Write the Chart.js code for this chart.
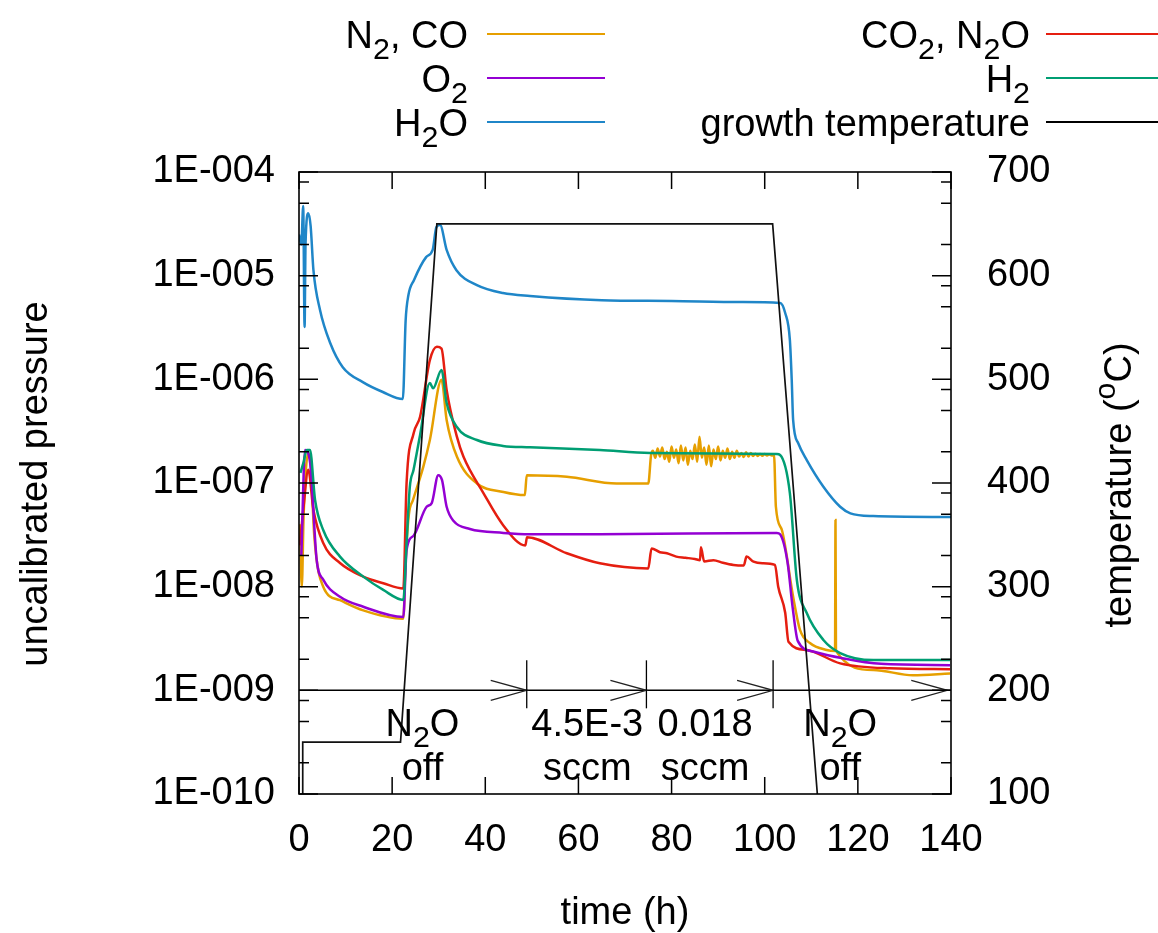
<!DOCTYPE html>
<html>
<head>
<meta charset="utf-8">
<script src="https://cdn.jsdelivr.net/npm/chart.js@4/dist/chart.umd.min.js"></script>
<style>
  html, body { margin: 0; padding: 0; background: #ffffff; }
  #wrap { width: 1158px; height: 933px; }
</style>
</head>
<body>
<div id="wrap"><canvas id="c" width="1158" height="933"></canvas></div>
<script>
// ---- residual gas partial pressures (a.u.) vs. time (h) ----
const n2coTime = [0.2, 0.6, 1.0, 2.0, 2.5, 3.3, 5.2, 8.8, 13.8, 22.4, 22.9, 23.6, 24.5, 26.7, 28.1, 30.6, 31.7, 33.9, 38.2, 43.9, 48.5,
  48.9, 57.5, 68.2, 75.0, 75.6,
  76.0, 76.5, 77.0, 77.5, 78.0, 78.5, 79.0, 79.5, 80.0, 80.5, 81.0, 81.5, 82.0, 82.5, 83.0, 83.5, 84.0, 84.5, 85.0, 85.5,
  86.0, 86.5, 87.0, 87.5, 88.0, 88.5, 89.0, 89.5, 90.0, 90.5, 91.0, 91.5, 92.0, 92.5, 93.0, 93.5, 94.0, 94.5, 95.0, 95.5,
  96.0, 96.5, 97.0, 97.5, 98.0, 98.5, 99.0, 99.5, 100.0, 100.5, 101.0, 101.5, 102.0,
  102.4, 103.7, 106.1, 107.6, 109.7, 113.3, 115.1, 115.2, 115.3, 123.3, 131.8, 139.8];
const n2coPressure = [4.0e-8, 1.0e-8, 5.0e-8, 1.95e-7, 1.5e-7, 3.0e-8, 1.0e-8, 7.4e-9, 5.9e-9, 4.9e-9, 1.8e-8, 5.0e-8, 6.9e-8, 1.44e-7, 2.6e-7, 9.9e-7, 4.06e-7, 1.8e-7, 9.9e-8, 8.2e-8, 7.65e-8,
  1.19e-7, 1.15e-7, 9.9e-8, 9.9e-8, 1.86e-7,
  2.05e-7, 1.75e-7, 2.15e-7, 1.8e-7, 2.2e-7, 1.7e-7, 2.0e-7, 1.6e-7, 2.25e-7, 1.75e-7, 2.1e-7, 1.55e-7, 2.3e-7, 1.65e-7, 2.2e-7, 1.5e-7,
  2.05e-7, 1.7e-7, 2.35e-7, 1.6e-7, 2.8e-7, 1.75e-7, 2.2e-7, 1.5e-7, 2.3e-7, 1.45e-7, 2.1e-7, 1.7e-7, 2.25e-7, 1.65e-7, 2.05e-7, 1.75e-7,
  2.15e-7, 1.7e-7, 2.0e-7, 1.75e-7, 2.05e-7, 1.8e-7, 1.95e-7, 1.78e-7, 1.98e-7, 1.8e-7, 1.95e-7, 1.82e-7, 1.92e-7, 1.82e-7, 1.9e-7, 1.83e-7,
  1.9e-7, 1.84e-7, 1.88e-7, 1.84e-7, 1.86e-7,
  5.9e-8, 3.5e-8, 8.0e-9, 3.8e-9, 2.86e-9, 2.45e-9, 2.4e-9, 4.4e-8, 2.4e-9, 1.57e-9, 1.4e-9, 1.45e-9];

const co2n2oTime = [0.2, 1.0, 2.0, 3.1, 5.2, 8.8, 13.8, 18.1, 22.4, 23.1, 24.6, 26.0, 28.1, 29.6, 30.6, 31.7, 33.9, 35.3, 39.6, 43.8, 48.6,
  48.96, 57.5, 64.6, 75.0, 75.7, 77.5, 79.0, 81.0, 83.0, 85.0, 86.1, 86.3, 87.0, 89.0, 91.0, 93.3, 95.5, 96.1, 97.6, 99.5, 102.2, 102.9,
  104.4, 105.1, 109.0, 116.2, 126.9, 139.8];
const co2n2oPressure = [2.5e-8, 6.0e-8, 1.34e-7, 5.5e-8, 2.64e-8, 1.69e-8, 1.25e-8, 1.08e-8, 9.6e-9, 1.0e-7, 3.0e-7, 4.36e-7, 1.53e-6, 2.06e-6, 1.98e-6, 7.9e-7, 2.8e-7, 1.8e-7, 8.0e-8, 3.94e-8, 2.5e-8,
  3.0e-8, 2.1e-8, 1.68e-8, 1.5e-8, 2.34e-8, 2.15e-8, 2.1e-8, 1.95e-8, 1.9e-8, 1.85e-8, 1.8e-8, 2.4e-8, 1.75e-8, 1.8e-8, 1.7e-8, 1.62e-8, 1.6e-8, 1.95e-8, 1.74e-8, 1.68e-8, 1.62e-8, 1.0e-8,
  5.6e-9, 2.94e-9, 2.45e-9, 1.82e-9, 1.63e-9, 1.6e-9];

const o2Time = [0.5, 1.3, 2.4, 3.8, 5.2, 8.8, 13.8, 22.4, 23.1, 24.6, 27.4, 28.5, 29.9, 30.7, 31.7, 33.2, 36.7, 43.9, 49.6, 64.6, 102.6,
  103.3, 104.9, 106.0, 107.1, 110.4, 116.2, 125.0, 139.8];
const o2Pressure = [2.0e-8, 2.08e-7, 1.56e-7, 1.8e-8, 1.17e-8, 8.0e-9, 6.4e-9, 5.1e-9, 2.26e-8, 3.1e-8, 5.9e-8, 6.4e-8, 1.19e-7, 1.07e-7, 5.9e-8, 4.3e-8, 3.6e-8, 3.3e-8, 3.2e-8, 3.2e-8, 3.3e-8,
  3.2e-8, 1.72e-8, 6.3e-9, 3.0e-9, 2.37e-9, 2.06e-9, 1.8e-9, 1.75e-9];

const h2Time = [0.3, 1.0, 1.65, 2.36, 3.44, 5.22, 8.8, 13.8, 18.1, 22.4, 23.1, 23.8, 24.6, 26.0, 28.1, 28.8, 30.6, 31.7, 33.9, 38.2, 43.8,
  49.6, 64.6, 75.4, 102.6, 103.3, 105.4, 106.9, 109.0, 112.6, 116.2, 123.3, 139.8];
const h2Pressure = [1.25e-7, 1.6e-7, 2.08e-7, 2.08e-7, 6.9e-8, 3.5e-8, 1.95e-8, 1.25e-8, 9.3e-9, 7.45e-9, 2.64e-8, 9.2e-8, 1.34e-7, 2.9e-7, 9.2e-7, 8.2e-7, 1.23e-6, 5.9e-7, 3.47e-7, 2.6e-7, 2.28e-7,
  2.21e-7, 2.08e-7, 1.95e-7, 1.9e-7, 1.86e-7, 8.0e-8, 1.16e-8, 5.6e-9, 3.06e-9, 2.29e-9, 1.96e-9, 1.96e-9];

const h2oTime = [0, 0.5, 0.9, 1.2, 1.4, 2.0, 2.5, 3.1, 4.5, 6.7, 9.4, 13.7, 18.0, 22.3, 22.9, 23.5, 24.7, 27.3, 28.7, 29.5, 30.3, 31.7,
  33.8, 38.2, 43.8, 49.6, 65.0, 80.0, 95.0, 103.3, 104.4, 105.4, 105.8, 106.1, 107.2, 109.0, 112.6, 116.2, 118.4, 123.3, 140.0];
const h2oPressure = [2.5e-5, 2.0e-5, 4.7e-5, 3.2e-6, 2.0e-5, 4.0e-5, 3.0e-5, 1.13e-5, 4.7e-6, 2.24e-6, 1.31e-6, 9.4e-7, 7.55e-7, 6.45e-7, 3.7e-6, 6.5e-6, 9.1e-6, 1.51e-5, 1.77e-5, 2.94e-5, 3.08e-5, 1.77e-5,
  1.13e-5, 8.1e-6, 6.8e-6, 6.37e-6, 5.8e-6, 5.7e-6, 5.57e-6, 5.45e-6, 4.36e-6, 2.4e-6, 9.9e-7, 4.06e-7, 2.42e-7, 1.67e-7, 9.2e-8, 5.9e-8, 5.1e-8, 4.8e-8, 4.7e-8];

// ---- growth temperature (°C) ----
const tempTime = [0.8, 0.8, 21.8, 29.6, 101.7, 111.3];
const tempValue = [100, 150, 150, 650, 650, 100];

// ---- axis ticks ----
const pressureTickValues = [1e-10, 1e-9, 1e-8, 1e-7, 1e-6, 1e-5, 1e-4];
const pressureTickLabels = ['1E-010', '1E-009', '1E-008', '1E-007', '1E-006', '1E-005', '1E-004'];
const minorTickFactors = [2, 5, 8];

// ---- N2O flow stages ----
const stageArrowTimes = [48.9, 74.6, 101.8, 139.2];
const stageBarTimes = [48.9, 74.6, 101.8];
const stageLevel = 1e-9;
const stageLabelTimes = [26.5, 61.9, 87.2, 116.2];
const stageLabelLine1 = [
  [{ t: 'N' }, { t: '2', sub: true }, { t: 'O' }],
  [{ t: '4.5E-3' }],
  [{ t: '0.018' }],
  [{ t: 'N' }, { t: '2', sub: true }, { t: 'O' }]
];
const stageLabelLine2 = ['off', 'sccm', 'sccm', 'off'];

// ---- legend entries (two columns) ----
const legendLeft = [
  { parts: [{ t: 'N' }, { t: '2', sub: true }, { t: ', CO' }], color: '#E69F00' },
  { parts: [{ t: 'O' }, { t: '2', sub: true }], color: '#9400D3' },
  { parts: [{ t: 'H' }, { t: '2', sub: true }, { t: 'O' }], color: '#1F86C8' }
];
const legendRight = [
  { parts: [{ t: 'CO' }, { t: '2', sub: true }, { t: ', N' }, { t: '2', sub: true }, { t: 'O' }], color: '#E51E10' },
  { parts: [{ t: 'H' }, { t: '2', sub: true }], color: '#009E73' },
  { parts: [{ t: 'growth temperature' }], color: '#000000' }
];

const FONT = '"Liberation Sans", Arial, sans-serif';
const FS = 38;

function pts(xs, ys) { return xs.map((x, i) => ({ x: x, y: ys[i] })); }

function fontStr(size) { return size.toFixed(1) + 'px ' + FONT; }

function richWidth(ctx, parts, size) {
  let w = 0;
  for (const p of parts) {
    ctx.font = fontStr(p.sub || p.sup ? size * 0.8 : size);
    w += ctx.measureText(p.t).width;
  }
  return w;
}

// draws text with sub/superscripts; y = cap-middle of the main text
function drawRich(ctx, parts, x, y, align, size) {
  const w = richWidth(ctx, parts, size);
  let cx = align === 'right' ? x - w : (align === 'center' ? x - w / 2 : x);
  const base = y + size * 0.36;
  ctx.textAlign = 'left';
  ctx.textBaseline = 'alphabetic';
  for (const p of parts) {
    const s = p.sub || p.sup ? size * 0.8 : size;
    ctx.font = fontStr(s);
    let by = base;
    if (p.sub) by += size * 0.3;
    if (p.sup) by -= size * 0.42;
    ctx.fillText(p.t, cx, by);
    cx += ctx.measureText(p.t).width;
  }
}

const decorPlugin = {
  id: 'decor',
  afterDatasetsDraw(chart) {
    const ctx = chart.ctx;
    const xs = chart.scales.x, ys = chart.scales.y;
    const a = chart.chartArea;
    ctx.save();
    ctx.strokeStyle = '#000';
    ctx.fillStyle = '#000';

    // N2O flow stage line with arrows and separators
    ctx.lineWidth = 1.5;
    const yl = ys.getPixelForValue(stageLevel);
    ctx.beginPath();
    ctx.moveTo(a.left, yl);
    ctx.lineTo(a.right, yl);
    ctx.stroke();
    ctx.lineWidth = 1.3;
    ctx.strokeStyle = '#222';
    for (const t of stageArrowTimes) {
      const px = xs.getPixelForValue(t);
      ctx.beginPath();
      ctx.moveTo(px - 36, yl - 10);
      ctx.lineTo(px, yl);
      ctx.lineTo(px - 36, yl + 10);
      ctx.stroke();
    }
    ctx.strokeStyle = '#000';
    for (const t of stageBarTimes) {
      const px = xs.getPixelForValue(t);
      ctx.beginPath();
      ctx.moveTo(px, yl - 30);
      ctx.lineTo(px, yl + 18);
      ctx.stroke();
    }
    stageLabelTimes.forEach((t, i) => {
      const px = xs.getPixelForValue(t);
      drawRich(ctx, stageLabelLine1[i], px, yl + 32, 'center', FS);
      drawRich(ctx, [{ t: stageLabelLine2[i] }], px, yl + 76, 'center', FS);
    });

    // inward tick marks on all four sides
    ctx.lineWidth = 1.5;
    ctx.beginPath();
    for (let d = -10; d < -4; d++) {
      for (const f of minorTickFactors) {
        const py = ys.getPixelForValue(f * Math.pow(10, d));
        ctx.moveTo(a.left, py); ctx.lineTo(a.left + 10, py);
        ctx.moveTo(a.right, py); ctx.lineTo(a.right - 10, py);
      }
    }
    for (const v of pressureTickValues) {
      const py = ys.getPixelForValue(v);
      ctx.moveTo(a.left, py); ctx.lineTo(a.left + 19, py);
      ctx.moveTo(a.right, py); ctx.lineTo(a.right - 19, py);
    }
    for (let t = 0; t <= 140; t += 20) {
      const px = xs.getPixelForValue(t);
      ctx.moveTo(px, a.bottom); ctx.lineTo(px, a.bottom - 17);
      ctx.moveTo(px, a.top); ctx.lineTo(px, a.top + 17);
    }
    ctx.stroke();

    // frame
    ctx.lineWidth = 1.6;
    ctx.strokeRect(a.left, a.top, a.right - a.left, a.bottom - a.top);
    ctx.restore();
  },
  afterDraw(chart) {
    const ctx = chart.ctx;
    ctx.save();
    ctx.fillStyle = '#000';

    // legend
    const rows = [34, 78, 122];
    legendLeft.forEach((e, i) => {
      drawRich(ctx, e.parts, 468, rows[i], 'right', FS);
      ctx.strokeStyle = e.color; ctx.lineWidth = 2;
      ctx.beginPath(); ctx.moveTo(487, rows[i]); ctx.lineTo(605, rows[i]); ctx.stroke();
    });
    legendRight.forEach((e, i) => {
      drawRich(ctx, e.parts, 1030, rows[i], 'right', FS);
      ctx.strokeStyle = e.color; ctx.lineWidth = 2;
      ctx.beginPath(); ctx.moveTo(1046, rows[i]); ctx.lineTo(1164, rows[i]); ctx.stroke();
    });

    // axis titles
    drawRich(ctx, [{ t: 'time (h)' }], 625, 910, 'center', FS);
    ctx.save();
    ctx.translate(33, 484);
    ctx.rotate(-Math.PI / 2);
    drawRich(ctx, [{ t: 'uncalibrated pressure' }], 0, 0, 'center', FS);
    ctx.restore();
    ctx.save();
    ctx.translate(1117, 485);
    ctx.rotate(-Math.PI / 2);
    drawRich(ctx, [{ t: 'temperature (' }, { t: 'o', sup: true }, { t: 'C)' }], 0, 0, 'center', FS);
    ctx.restore();
    ctx.restore();
  }
};

const tickFont = { family: FONT, size: FS };

function gasSet(label, xs, ys, color) {
  return { label: label, data: pts(xs, ys), yAxisID: 'y', borderColor: color, borderWidth: 2.5, cubicInterpolationMode: 'monotone' };
}

new Chart(document.getElementById('c'), {
  type: 'line',
  data: {
    datasets: [
      { label: 'growth temperature', data: pts(tempTime, tempValue), yAxisID: 'y2', borderColor: '#111111', borderWidth: 1.7 },
      gasSet('H2O', h2oTime, h2oPressure, '#1F86C8'),
      gasSet('H2', h2Time, h2Pressure, '#009E73'),
      gasSet('O2', o2Time, o2Pressure, '#9400D3'),
      gasSet('CO2, N2O', co2n2oTime, co2n2oPressure, '#E51E10'),
      gasSet('N2, CO', n2coTime, n2coPressure, '#E69F00')
    ]
  },
  options: {
    responsive: false,
    animation: false,
    devicePixelRatio: 1,
    layout: { padding: { top: 172, left: 0, right: 0, bottom: 0 } },
    elements: {
      point: { radius: 0 },
      line: { borderWidth: 2, tension: 0, fill: false }
    },
    plugins: { legend: { display: false }, tooltip: { enabled: false } },
    scales: {
      x: {
        type: 'linear', position: 'bottom', min: 0, max: 140,
        grid: { display: false, drawTicks: false, tickLength: 0 },
        border: { display: false },
        ticks: { stepSize: 20, font: tickFont, color: '#000', padding: 24, maxRotation: 0, autoSkip: false },
        afterFit(s) { s.height = 139; }
      },
      y: {
        type: 'logarithmic', position: 'left', min: 1e-10, max: 1e-4,
        grid: { display: false, drawTicks: false, tickLength: 0 },
        border: { display: false },
        afterBuildTicks(s) { s.ticks = pressureTickValues.map(v => ({ value: v, major: true })); },
        ticks: {
          font: tickFont, color: '#000', padding: 24, autoSkip: false,
          callback(v) {
            const i = pressureTickValues.findIndex(p => Math.abs(Math.log10(p) - Math.log10(v)) < 1e-6);
            return i >= 0 ? pressureTickLabels[i] : '';
          }
        },
        afterFit(s) { s.width = 299; }
      },
      y2: {
        type: 'linear', position: 'right', min: 100, max: 700,
        grid: { display: false, drawTicks: false, tickLength: 0 },
        border: { display: false },
        ticks: { stepSize: 100, font: tickFont, color: '#000', padding: 36, autoSkip: false },
        afterFit(s) { s.width = 207; }
      }
    }
  },
  plugins: [decorPlugin]
});
</script>
</body>
</html>
